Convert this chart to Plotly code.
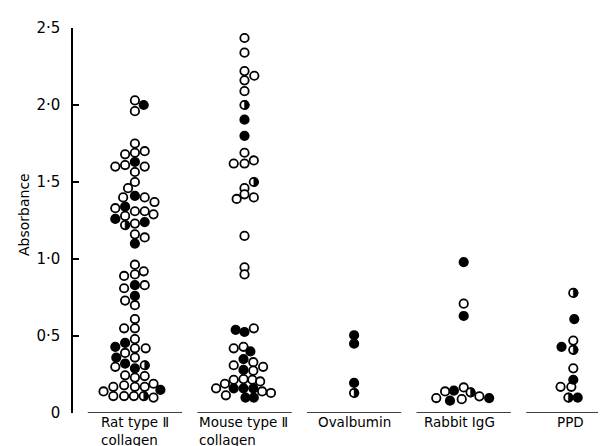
import numpy as np
import plotly.graph_objects as go

# ---------------- data ----------------
categories = ["Rat type Ⅱ<br>collagen", "Mouse type Ⅱ<br>collagen", "Ovalbumin", "Rabbit IgG", "PPD"]

# kinds: o = open, f = filled, h = half-filled
rat_values = [2.03, 2.00, 1.96, 1.75, 1.70, 1.68, 1.69, 1.63, 1.60, 1.61, 1.60, 1.565, 1.50, 1.46,
              1.40, 1.41, 1.40, 1.37, 1.34, 1.33, 1.31, 1.31, 1.29, 1.28, 1.26, 1.24, 1.23, 1.22,
              1.16, 1.14, 1.10, 0.963, 0.92, 0.89, 0.90, 0.83, 0.81, 0.83, 0.76, 0.73, 0.70, 0.61,
              0.55, 0.55, 0.48, 0.455, 0.43, 0.42, 0.42, 0.39, 0.36, 0.36, 0.32, 0.30, 0.29, 0.31,
              0.23, 0.245, 0.24, 0.19, 0.17, 0.17, 0.18, 0.17, 0.14, 0.15, 0.11, 0.11, 0.11, 0.11, 0.10]
rat_offsets = [0, 0.9, 0, 0, 1, -1, 0, 0, -2, -1, 1, 0, 0, -0.7,
               -1.2, 0, 1, 2, -1, -2, 0, 1, 1.9, -1, -2, 1, 0, -1,
               0, 1, 0, 0, 0.9, -1.1, 0, 0, -1.1, 1, 0, -1, 0, 0,
               -1.1, 0, 0, -1, -2, 0, 1.1, -1, -1.9, 0, -1, -2, 0, 1,
               0, -1, 1, 1.9, 1, 0, -1.1, -2.2, -3.2, 2.6, -2.2, -1.1, -0.1, 0.9, 1.9]
rat_kinds = list("ofooooofoo" "ooooofoofo" "ooooffohoo" "foooofoofo"
                 "oooooffooo" "fofofhoooo" "ooooofoooho")

mouse_values = [2.435, 2.34, 2.22, 2.19, 2.16, 2.09, 2.00, 1.905, 1.80, 1.69, 1.64, 1.62, 1.62,
                1.50, 1.46, 1.42, 1.39, 1.40, 1.15, 0.946, 0.90, 0.54, 0.526, 0.55, 0.42, 0.43,
                0.40, 0.35, 0.31, 0.33, 0.28, 0.30, 0.275, 0.216, 0.22, 0.216, 0.205, 0.19, 0.16,
                0.16, 0.16, 0.16, 0.14, 0.13, 0.115, 0.10, 0.10]
mouse_offsets = [0, 0, 0, 1, 0, 0, 0, 0, 0, 0, 0.95, -1.1, 0,
                 0.95, 0, 0, -0.8, 0.95, 0, 0, 0, -0.9, 0, 0.95, -1.1, -0.1,
                 0.6, -0.1, -1.1, 0.9, -0.1, 1.9, 0.9, -1.1, -0.1, 0.8, 1.6, -2.0, -1.1,
                 -2.9, -0.1, 0.9, 1.8, 2.7, -1.9, 0.1, 0.95]
mouse_kinds = list("oooooohffo" "ooohoooooo" "offoooffoo" "fooooooofo" "ffoooff")

oval_values = [0.505, 0.45, 0.195, 0.13]
oval_offsets = [0, 0, 0, 0]
oval_kinds = list("fffh")

rabbit_values = [0.98, 0.71, 0.63, 0.14, 0.145, 0.166, 0.134, 0.097, 0.08, 0.09, 0.108, 0.097]
rabbit_offsets = [0, 0, 0, -1.9, -1.0, 0, 0.7, -2.8, -1.4, -0.2, 1.6, 2.6]
rabbit_kinds = list("fofofohofoof")

ppd_values = [0.78, 0.61, 0.47, 0.43, 0.41, 0.29, 0.216, 0.17, 0.17, 0.10, 0.10]
ppd_offsets = [0, 0.1, 0, -1.2, 0, 0, 0, -1.3, -0.2, -0.5, 0.45]
ppd_kinds = list("hfofhofoohf")

y_tick_vals = [0, 0.5, 1.0, 1.5, 2.0, 2.5]
y_tick_text = ["0", "0·5", "1·0", "1·5", "2·0", "2·5"]

groups = [
    (rat_values, rat_offsets, rat_kinds),
    (mouse_values, mouse_offsets, mouse_kinds),
    (oval_values, oval_offsets, oval_kinds),
    (rabbit_values, rabbit_offsets, rabbit_kinds),
    (ppd_values, ppd_offsets, ppd_kinds),
]

# ---------------- layout constants ----------------
W, H = 606, 446
ML, MR, MT, MB = 65, 6, 20, 41
PX_PER_X = 109.6          # pixels per category step
PX_PER_Y = (H - MT - MB) / 2.5
X0 = -(126.9 - ML) / PX_PER_X
X1 = X0 + (W - ML - MR) / PX_PER_X
DOT = 9.8 / PX_PER_X      # one dot width in x data units
FONT = "DejaVu Sans"

xs = {"o": [], "f": [], "h": []}
ys = {"o": [], "f": [], "h": []}
for gi, (vals, offs, kinds) in enumerate(groups):
    n = min(len(vals), len(offs), len(kinds))
    for v, o, k in zip(vals[:n], offs[:n], kinds[:n]):
        xs[k].append(gi + o * DOT)
        ys[k].append(v)

fig = go.Figure()

# baseline segments under each category
seg_x, seg_y = [], []
for gi in range(len(categories)):
    seg_x += [gi - 0.43, gi + 0.43, None]
    seg_y += [0, 0, None]
fig.add_trace(go.Scatter(x=seg_x, y=seg_y, mode="lines", cliponaxis=False,
                         line=dict(color="black", width=1.6), hoverinfo="skip", showlegend=False))

MS, LW = 8.4, 1.8
fig.add_trace(go.Scatter(x=xs["o"] + xs["h"], y=ys["o"] + ys["h"], mode="markers", cliponaxis=False,
                         marker=dict(symbol="circle", size=MS, color="white",
                                     line=dict(color="black", width=LW)), showlegend=False))
fig.add_trace(go.Scatter(x=xs["f"], y=ys["f"], mode="markers", cliponaxis=False,
                         marker=dict(symbol="circle", size=MS, color="black",
                                     line=dict(color="black", width=LW)), showlegend=False))

# half-filled: right half filled black
r_px = 4.8
rx, ry = r_px / PX_PER_X, r_px / PX_PER_Y
ang = np.linspace(-np.pi / 2, np.pi / 2, 16)
hx, hy = [], []
for x, y in zip(xs["h"], ys["h"]):
    hx += list(x + rx * np.cos(ang)) + [x, None]
    hy += list(y + ry * np.sin(ang)) + [y + ry * np.sin(ang[0]), None]
fig.add_trace(go.Scatter(x=hx, y=hy, mode="lines", fill="toself", fillcolor="black",
                         line=dict(color="black", width=0.5), cliponaxis=False,
                         hoverinfo="skip", showlegend=False))

# category labels
label_pos = [(-0.318, "left"), (0.576, "left"), (2.0, "center"), (2.96, "center"), (3.97, "center")]
for (lx, anchor), txt in zip(label_pos, categories):
    fig.add_annotation(x=lx, xref="x", y=-(405 - (H - MB)) / (H - MT - MB), yref="paper",
                       text=txt, showarrow=False, xanchor=anchor, yanchor="top", align="left",
                       borderpad=0,
                       font=dict(family=FONT, size=13.5, color="black"))

fig.add_annotation(text="Absorbance", textangle=-90, xref="paper", yref="paper",
                   x=(16 - ML) / (W - ML - MR), y=(H - MB - 207) / (H - MT - MB),
                   xanchor="center", yanchor="middle", showarrow=False,
                   font=dict(family=FONT, size=14, color="black"))

fig.update_layout(
    width=W, height=H, margin=dict(l=ML, r=MR, t=MT, b=MB),
    paper_bgcolor="white", plot_bgcolor="white",
    xaxis=dict(range=[X0, X1], visible=False, fixedrange=True),
    yaxis=dict(range=[0, 2.5], tickvals=y_tick_vals, ticktext=y_tick_text,
               ticks="inside", ticklen=6, tickwidth=1.5, tickcolor="black",
               showline=True, linecolor="black", linewidth=1.5, showgrid=False, zeroline=False,
               ticklabelstandoff=8,
               tickfont=dict(family=FONT, size=15, color="black")),
    showlegend=False,
)

fig.write_html("out.html")
